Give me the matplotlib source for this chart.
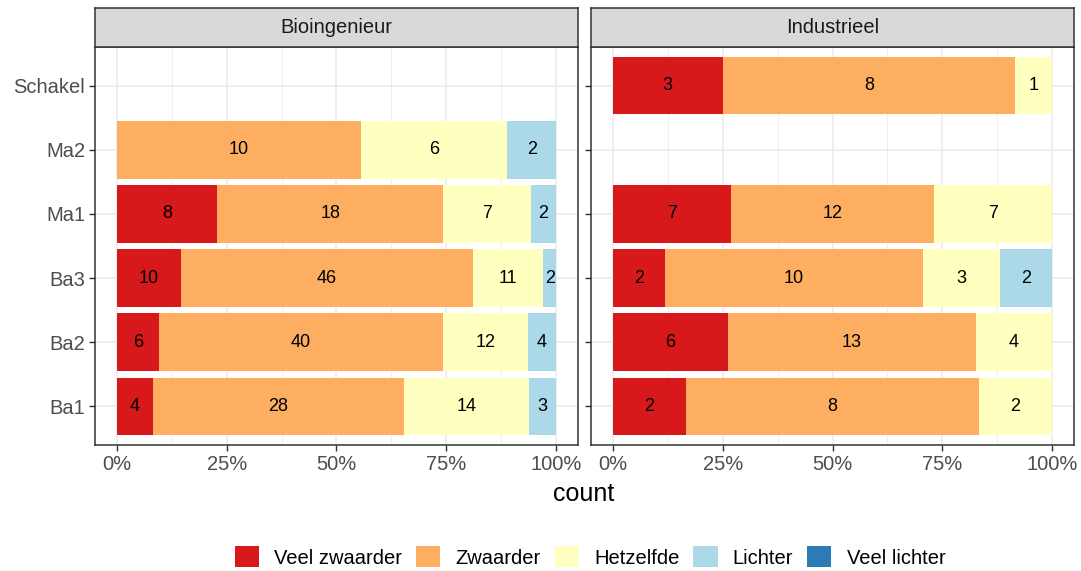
import numpy as np
import matplotlib.pyplot as plt
from matplotlib.patches import Patch

plt.rcParams['font.family'] = ['Liberation Sans', 'DejaVu Sans']

# y categories, bottom to top
years = ["Ba1", "Ba2", "Ba3", "Ma1", "Ma2", "Schakel"]
levels = ["Veel zwaarder", "Zwaarder", "Hetzelfde", "Lichter", "Veel lichter"]
colors = ["#D7191C", "#FDAE61", "#FFFFBF", "#ABD9E9", "#2C7BB6"]

# counts per year: [Veel zwaarder, Zwaarder, Hetzelfde, Lichter, Veel lichter]
bio_counts = {
    "Ba1": [4, 28, 14, 3, 0],
    "Ba2": [6, 40, 12, 4, 0],
    "Ba3": [10, 46, 11, 2, 0],
    "Ma1": [8, 18, 7, 2, 0],
    "Ma2": [0, 10, 6, 2, 0],
}
ind_counts = {
    "Ba1": [2, 8, 2, 0, 0],
    "Ba2": [6, 13, 4, 0, 0],
    "Ba3": [2, 10, 3, 2, 0],
    "Ma1": [7, 12, 7, 0, 0],
    "Schakel": [3, 8, 1, 0, 0],
}
panels = [("Bioingenieur", bio_counts), ("Industrieel", ind_counts)]

W, H = 1081, 571
fig = plt.figure(figsize=(W / 100, H / 100), dpi=100)

def box(x0, y0, x1, y1):
    return [x0 / W, 1 - y1 / H, (x1 - x0) / W, (y1 - y0) / H]

panel_x = [(95, 578), (591, 1074)]
for i, (name, counts) in enumerate(panels):
    x0, x1 = panel_x[i]
    ax = fig.add_axes(box(x0, 47, x1, 445))
    for yi, yr in enumerate(years):
        if yr not in counts:
            continue
        c = np.array(counts[yr], dtype=float)
        frac = c / c.sum()
        left = 0.0
        for k in range(len(levels)):
            if c[k] > 0:
                ax.barh(yi, frac[k], left=left, height=0.9, color=colors[k],
                        edgecolor='none', zorder=2)
                ax.text(left + frac[k] / 2, yi, str(int(c[k])), ha='center', va='center',
                        fontsize=13, color='black', zorder=3)
            left += frac[k]
    ax.set_xlim(-0.05, 1.05)
    ax.set_ylim(-0.6, len(years) - 0.4)
    ax.set_xticks([0, 0.25, 0.5, 0.75, 1.0])
    ax.set_xticklabels(["0%", "25%", "50%", "75%", "100%"])
    ax.set_xticks([0.125, 0.375, 0.625, 0.875], minor=True)
    ax.set_yticks(range(len(years)))
    if i == 0:
        ax.set_yticklabels(years)
    else:
        ax.set_yticklabels([])
        ax.tick_params(axis='y', length=0)
    ax.grid(True, which='major', color='#EBEBEB', linewidth=1.1, zorder=0)
    ax.grid(True, which='minor', axis='x', color='#EBEBEB', linewidth=0.6, zorder=0)
    ax.set_axisbelow(True)
    ax.tick_params(axis='both', which='major', labelsize=14.5, labelcolor='#4D4D4D',
                   color='#333333', length=4, width=1, pad=3)
    ax.tick_params(axis='x', which='minor', length=0)
    for s in ax.spines.values():
        s.set_color('#333333')
        s.set_linewidth(1.1)
    # facet strip
    sax = fig.add_axes(box(x0, 8, x1, 47))
    sax.set_facecolor('#D9D9D9')
    sax.set_xticks([])
    sax.set_yticks([])
    for s in sax.spines.values():
        s.set_color('#333333')
        s.set_linewidth(1.1)
    sax.text(0.5, 0.5, name, ha='center', va='center', fontsize=14.5,
             color='#1A1A1A', transform=sax.transAxes)

fig.text(584 / W, 1 - 494 / H, "count", ha='center', va='center', fontsize=18)

handles = [Patch(facecolor=c, edgecolor='none') for c in colors]
fig.legend(handles, levels, loc='center', bbox_to_anchor=(590 / W, 1 - 557 / H),
           ncol=5, frameon=False, fontsize=14.5, handlelength=1.2, handleheight=1.2,
           handletextpad=0.75, columnspacing=0.7, borderpad=0)

fig.savefig("out.png", dpi=100)
